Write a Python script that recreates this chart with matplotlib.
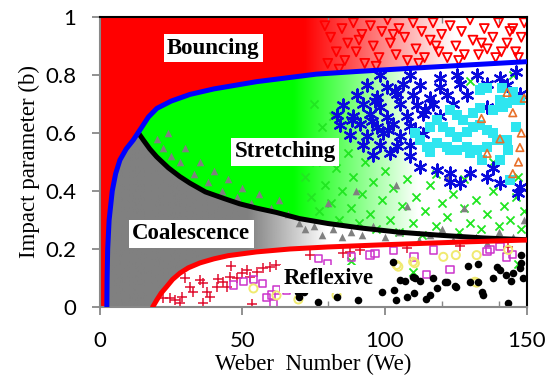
import numpy as np
import matplotlib
matplotlib.use('Agg')
import matplotlib.pyplot as plt
from matplotlib.patches import Polygon
from matplotlib.colors import to_rgb

plt.rcParams['font.family'] = 'Lato'

# regime boundaries (We, b)
blue_we = [2.4, 2.5, 2.7, 3.2, 4.3, 5.5, 7.0, 9.2, 11.7, 14.0, 17.0, 20.0, 25.0, 31.6, 40.0, 55.0, 76.0, 90.0, 109.0, 130.0, 150.0]
blue_b = [0.0, 0.10, 0.20, 0.30, 0.40, 0.46, 0.507, 0.545, 0.576, 0.61, 0.655, 0.685, 0.71, 0.733, 0.752, 0.777, 0.803, 0.812, 0.823, 0.835, 0.846]

black_we = [13.5, 15.2, 17.5, 19.9, 24, 28, 31.6, 37, 43.3, 49, 55, 62, 70, 80, 92, 105, 120, 135, 150]
black_b = [0.60, 0.576, 0.545, 0.518, 0.48, 0.45, 0.427, 0.397, 0.375, 0.356, 0.341, 0.326, 0.305, 0.288, 0.272, 0.258, 0.247, 0.238, 0.232]

red_we = [18.5, 20, 21.5, 23.4, 25.5, 28.1, 31, 35.1, 40, 45, 55, 66.7, 80, 98, 115, 130, 150]
red_b = [0.0, 0.025, 0.048, 0.07, 0.095, 0.117, 0.135, 0.152, 0.166, 0.177, 0.19, 0.2, 0.207, 0.214, 0.22, 0.225, 0.231]

# sparse measured points
bounce_we = [79, 81, 83, 80, 85, 87, 86, 89, 90, 92, 93, 95, 96, 98, 99, 101, 102, 104, 105, 107, 108, 110, 111, 113, 114,
             116, 117, 119, 120, 122, 123, 125, 127, 128, 130, 131, 133, 135, 136, 138, 140, 141, 143, 145, 146, 148, 149,
             84, 97, 112, 126, 139, 147, 91, 103, 118, 134, 144]
bounce_b = [0.97, 0.93, 0.88, 0.84, 0.96, 0.91, 0.85, 0.98, 0.88, 0.94, 0.84, 0.97, 0.90, 0.86, 0.95, 0.99, 0.91, 0.87, 0.96,
            0.93, 0.85, 0.98, 0.89, 0.95, 0.86, 0.92, 0.98, 0.88, 0.94, 0.86, 0.97, 0.90, 0.95, 0.87, 0.99, 0.92, 0.87, 0.96,
            0.89, 0.93, 0.98, 0.88, 0.91, 0.96, 0.88, 0.93, 0.98, 0.82, 0.83, 0.84, 0.85, 0.86, 0.86, 0.92, 0.94, 0.90, 0.91, 0.95]

stretch_we = [72, 74, 76, 77, 79, 80, 81, 83, 84, 85, 87, 88, 89, 91, 92, 93, 95, 96, 97, 99, 100, 102, 103, 105, 106, 108,
              110, 111, 113, 114, 116, 118, 120, 122, 124, 126, 128, 130, 132, 134, 136, 138, 140, 142, 144, 146, 148, 149,
              78, 82, 75, 130, 145, 138, 147, 110, 147, 88, 118, 128]
stretch_b = [0.45, 0.38, 0.50, 0.33, 0.42, 0.56, 0.36, 0.48, 0.30, 0.40, 0.53, 0.34, 0.45, 0.29, 0.39, 0.50, 0.32, 0.43, 0.27,
             0.37, 0.47, 0.30, 0.41, 0.26, 0.35, 0.44, 0.29, 0.38, 0.25, 0.33, 0.42, 0.28, 0.36, 0.31, 0.39, 0.26, 0.34, 0.29,
             0.37, 0.27, 0.32, 0.40, 0.28, 0.35, 0.30, 0.38, 0.27, 0.33, 0.62, 0.66, 0.70, 0.78, 0.80, 0.50, 0.45, 0.12, 0.15,
             0.16, 0.46, 0.44]

coal_we = [20, 22, 25, 24, 28, 30, 33, 35, 38, 40, 43, 45, 48, 50, 53, 56, 60, 63, 66, 70, 72, 75, 78, 82, 85, 88, 92, 96,
           100, 105, 108, 112, 116, 120, 124, 128, 132, 136, 140, 145, 149, 104, 122, 90, 80]
coal_b = [0.58, 0.55, 0.52, 0.60, 0.50, 0.55, 0.46, 0.50, 0.43, 0.47, 0.40, 0.44, 0.38, 0.41, 0.36, 0.39, 0.34, 0.37, 0.32,
          0.29, 0.27, 0.28, 0.25, 0.27, 0.24, 0.26, 0.25, 0.28, 0.24, 0.26, 0.35, 0.23, 0.25, 0.27, 0.23, 0.34, 0.24, 0.22,
          0.26, 0.24, 0.30, 0.42, 0.45, 0.40, 0.36]

blue_pts_we = [98.3, 108.9, 119.4, 125.3, 132.3, 140.5, 146.3, 93.7, 100.7, 106.5, 112.4, 119.4, 126.5, 135.8, 142.8,
               90.2, 97.2, 104.2, 110.1, 115.9, 121.8, 128.8, 147.5, 85.5, 92.5, 98.3, 105.4, 111.2, 117.1, 135.8,
               83.1, 89.0, 94.8, 100.7, 107.7, 113.6, 119.4, 84.3, 91.3, 97.2, 103.0, 108.9, 87.8, 93.7, 99.5, 105.4,
               113.6, 92.5, 98.3, 104.2, 108.9, 96.0, 101.9, 108.9, 112.4, 118.3, 122.9, 122.9, 126.4, 130.0, 135.8,
               138.2, 140.5, 146.9, 147.5, 103.5, 96.5, 114.0, 88.5, 101.0, 95.5, 110.5, 124.0]
blue_pts_b = [0.80, 0.80, 0.79, 0.80, 0.80, 0.79, 0.81, 0.767, 0.76, 0.77, 0.765, 0.76, 0.77, 0.77, 0.765,
              0.73, 0.725, 0.735, 0.73, 0.72, 0.73, 0.73, 0.735, 0.696, 0.70, 0.69, 0.70, 0.695, 0.70, 0.69,
              0.662, 0.66, 0.665, 0.655, 0.66, 0.665, 0.66, 0.628, 0.63, 0.62, 0.63, 0.625, 0.593, 0.59, 0.60, 0.59,
              0.595, 0.559, 0.56, 0.555, 0.56, 0.524, 0.53, 0.52, 0.484, 0.472, 0.461, 0.432, 0.426, 0.461, 0.449,
              0.478, 0.426, 0.392, 0.415, 0.745, 0.71, 0.68, 0.645, 0.61, 0.64, 0.61, 0.70]

cyan_we = [133.5, 135.8, 140.5, 141.7, 122.9, 125.3, 127.6, 131.1, 133.5, 138.2, 142.8, 145.2, 147.5, 115.9, 118.3,
           120.6, 122.9, 125.3, 128.8, 131.1, 133.5, 135.8, 138.2, 110.6, 112.4, 114.7, 118.3, 121.8, 125.3, 128.8,
           132.3, 135.8, 139.3, 142.8, 146.3, 115.9, 122.9, 130.0, 134.1, 140.5, 143.4, 144.0, 141.1, 145.2, 134.5]
cyan_b = [0.748, 0.754, 0.714, 0.691, 0.679, 0.662, 0.645, 0.668, 0.685, 0.679, 0.702, 0.714, 0.714, 0.622, 0.645,
          0.622, 0.605, 0.587, 0.605, 0.622, 0.628, 0.610, 0.599, 0.599, 0.576, 0.553, 0.564, 0.553, 0.541, 0.553,
          0.541, 0.553, 0.576, 0.576, 0.622, 0.536, 0.541, 0.530, 0.507, 0.507, 0.541, 0.438, 0.754, 0.742, 0.754]

orange_we = [134, 145, 140.5, 147.5, 136, 145, 148, 149, 143, 147]
orange_b = [0.65, 0.67, 0.58, 0.55, 0.53, 0.46, 0.60, 0.72, 0.74, 0.50]

plus_we = [24.6, 26.3, 28.7, 28.1, 31.6, 32.8, 35.1, 36.3, 37.5, 38.6, 41.0, 41.6, 43.3, 44.5, 45.7, 48.0, 49.8, 51.5,
           52.7, 55.0, 57.4, 59.7, 62.0, 36.3, 53.3, 73.8, 85.5, 87.8, 91.3, 107.7, 126.4, 143.4, 22.0, 30.0, 46.0]
plus_b = [0.030, 0.024, 0.036, 0.013, 0.070, 0.053, 0.093, 0.082, 0.053, 0.036, 0.070, 0.095, 0.087, 0.070, 0.105,
          0.099, 0.116, 0.128, 0.105, 0.122, 0.133, 0.139, 0.145, 0.013, 0.010, 0.179, 0.185, 0.191, 0.197, 0.202,
          0.210, 0.208, 0.030, 0.100, 0.140]

square_we = [46.8, 50.3, 53.9, 57.0, 58.5, 60.3, 60.9, 62.0, 65.6, 76.7, 88.4, 94.8, 96.6, 103.0, 110.3, 114.7, 117.1,
             122.9, 136.0, 137.0, 140.5, 142.8, 144.8, 70.0, 80.0]
square_b = [0.076, 0.087, 0.095, 0.082, 0.033, 0.041, 0.013, 0.059, 0.059, 0.168, 0.173, 0.179, 0.185, 0.194, 0.172,
            0.112, 0.197, 0.130, 0.191, 0.199, 0.208, 0.172, 0.181, 0.120, 0.150]

yellow_we = [53.9, 66.0, 69.7, 83.1, 104.2, 104.8, 110.0, 110.6, 120.6, 125.0, 131.7, 132.3, 132.3, 143.4, 62.0]
yellow_b = [0.064, 0.120, 0.026, 0.041, 0.145, 0.139, 0.156, 0.151, 0.173, 0.179, 0.087, 0.179, 0.084, 0.197, 0.040]

dot_we = [69.5, 71.5, 69.8, 76.7, 83.1, 90.7, 98.9, 102.8, 103.3, 104.0, 105.4, 107.1, 107.9, 110.1, 110.4, 112.4,
          114.5, 115.9, 116.9, 118.3, 121.8, 125.0, 129.4, 130.0, 132.9, 132.9, 134.1, 134.6, 138.2, 139.3, 140.5,
          142.6, 143.4, 144.4, 145.2, 147.5, 147.9, 147.9, 148.7, 124.7, 110.6, 121.2]
dot_b = [0.052, 0.052, 0.035, 0.018, 0.036, 0.024, 0.051, 0.154, 0.059, 0.024, 0.093, 0.091, 0.033, 0.105, 0.049,
         0.091, 0.026, 0.041, 0.099, 0.064, 0.087, 0.070, 0.141, 0.087, 0.148, 0.087, 0.053, 0.041, 0.099, 0.137,
         0.128, 0.110, 0.013, 0.091, 0.118, 0.133, 0.179, 0.153, 0.099, 0.072, 0.099, 0.087]

fig = plt.figure(figsize=(5.53, 3.82), dpi=100)
ax = fig.add_axes([100 / 553, 1 - 307 / 382, 427 / 553, 290 / 382])

bw = np.array(blue_we)
bb = np.array(blue_b)
kw = np.array(black_we)
kb = np.array(black_b)
rw = np.array(red_we)
rb = np.array(red_b)


def faded_fill(px, py, color, x_full, x_zero):
    # solid colour up to x_full, fading out towards x_zero, clipped to the region
    poly = Polygon(np.column_stack([px, py]), closed=True, fc='none', ec='none')
    ax.add_patch(poly)
    xg = np.linspace(0, 150, 600)
    img = np.zeros((1, 600, 4))
    img[..., :3] = to_rgb(color)
    img[..., 3] = np.clip((x_zero - xg) / (x_zero - x_full), 0, 1)
    im = ax.imshow(img, extent=[0, 150, 0, 1], aspect='auto', origin='lower',
                   interpolation='bilinear', zorder=1)
    im.set_clip_path(poly)


# bouncing area
faded_fill([0, 0, 150] + list(bw[::-1]), [0, 1, 1] + list(bb[::-1]), '#ff0000', 72, 125)

# stretching area
xs = np.linspace(13.5, 150, 150)
faded_fill(list(xs) + list(xs[::-1]),
           list(np.interp(xs, bw, bb)) + list(np.interp(xs[::-1], kw, kb)), '#00ff00', 68, 112)

# coalescence area
xs = np.linspace(2.4, 150, 200)
top = np.where(xs < 13.5, np.interp(xs, bw, bb), np.interp(xs, kw, kb))
bot = np.where(xs < 18.5, 0, np.interp(xs, rw, rb))
faded_fill(list(xs) + list(xs[::-1]), list(bot) + list(top[::-1]), '#808080', 52, 80)

ax.scatter(bounce_we, bounce_b, marker='v', s=42, facecolors='none', edgecolors='#ff0000', lw=1.3, zorder=2)
ax.scatter(stretch_we, stretch_b, marker='x', s=34, color='#22e622', lw=1.3, zorder=2)
ax.scatter(coal_we, coal_b, marker='^', s=30, color='#808080', lw=0, zorder=2)
ax.scatter(blue_pts_we, blue_pts_b, marker=(6, 2, 0), s=75, color='#0a0adc', lw=1.6, zorder=2)
ax.scatter(cyan_we, cyan_b, marker='s', s=45, color='#2ee6f0', lw=0, zorder=2)
ax.scatter(orange_we, orange_b, marker='^', s=30, facecolors='none', edgecolors='#e8702a', lw=1.2, zorder=2)
ax.scatter(plus_we, plus_b, marker='+', s=45, color='#e01030', lw=1.1, zorder=2)
ax.scatter(square_we, square_b, marker='s', s=28, facecolors='none', edgecolors='#cc33cc', lw=1.1, zorder=2)
ax.scatter(yellow_we, yellow_b, marker='o', s=34, facecolors='none', edgecolors='#f0ea70', lw=1.4, zorder=2)
ax.scatter(dot_we, dot_b, marker='o', s=30, color='black', lw=0, zorder=2)

ax.plot(black_we, black_b, color='black', lw=3.6, solid_capstyle='round', zorder=3)
ax.plot(red_we, red_b, color='#ff0000', lw=3.6, solid_capstyle='round', zorder=3)
ax.plot(blue_we, blue_b, color='#0000ff', lw=3.6, solid_capstyle='round', zorder=3)

box = dict(facecolor='white', edgecolor='none', pad=2.5)
lab = dict(ha='center', va='center', fontsize=16.5, fontweight='bold', family='Liberation Serif', bbox=box, zorder=4)
ax.text(39.8, 0.893, 'Bouncing', **lab)
ax.text(65.1, 0.535, 'Stretching', **lab)
ax.text(32.0, 0.252, 'Coalescence', **lab)
ax.text(80.4, 0.097, 'Reflexive', **lab)

ax.set_xlim(0, 150)
ax.set_ylim(0, 1)
ax.set_xticks([0, 50, 100, 150])
ax.set_yticks([0, 0.2, 0.4, 0.6, 0.8, 1.0])
ax.set_yticklabels(['0', '0.2', '0.4', '0.6', '0.8', '1'])
ax.set_xticks([80, 120, 140], minor=True)
ax.tick_params(which='major', direction='out', length=6, width=1.3, color='#888888', labelsize=16, pad=11)
ax.tick_params(which='minor', direction='in', length=4, width=1.0, color='#888888', top=True)

for s in ['left', 'bottom']:
    ax.spines[s].set_color('#888888')
    ax.spines[s].set_linewidth(1.5)
for s in ['top', 'right']:
    ax.spines[s].set_color('black')
    ax.spines[s].set_linewidth(1.5)

ax.set_xlabel('Weber  Number (We)', family='Liberation Serif', fontsize=16.5, labelpad=2)
ax.set_ylabel('Impact parameter (b)', family='Liberation Serif', fontsize=16.5, labelpad=4)

fig.savefig('out.png', dpi=100)
